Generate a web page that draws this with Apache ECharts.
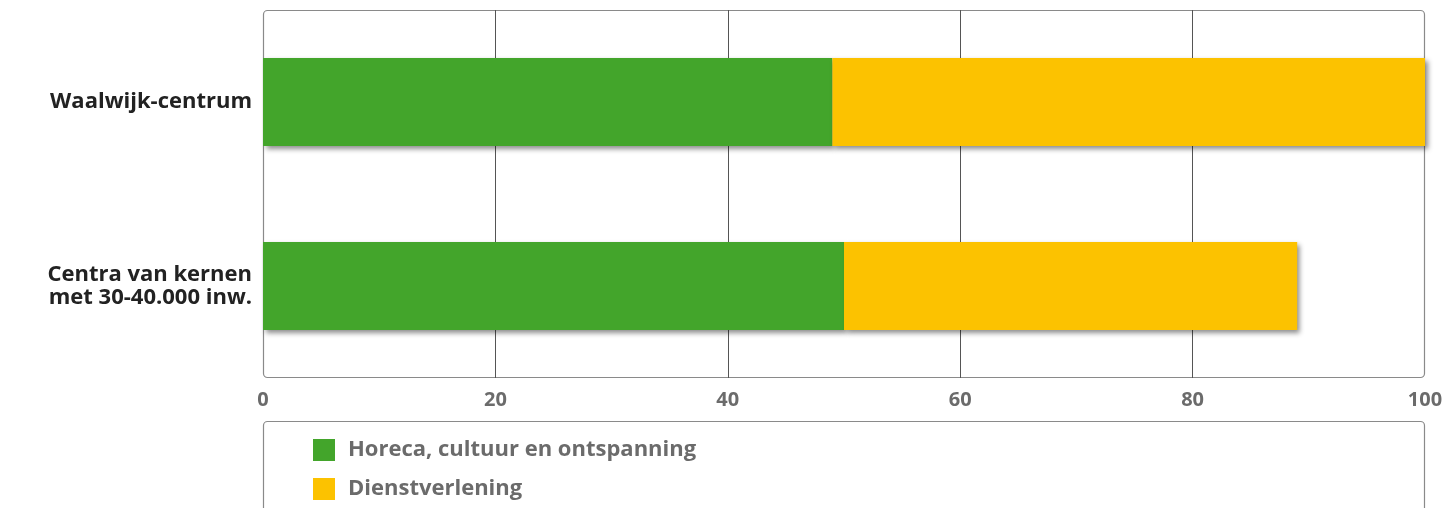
<!DOCTYPE html>
<html>
<head>
<meta charset="utf-8">
<script src="https://cdn.jsdelivr.net/npm/echarts@6/dist/echarts.min.js"></script>
<style>html,body{margin:0;padding:0;background:#fff}#c{width:1449px;height:508px}</style>
</head>
<body>
<div id="c"></div>
<script>
const categories = ['Waalwijk-centrum', 'Centra van kernen\nmet 30-40.000 inw.'];
const seriesNames = ['Horeca, cultuur en ontspanning', 'Dienstverlening'];
const horeca = [49, 50];
const dienst = [51, 39];
const xTicks = [0, 20, 40, 60, 80, 100];

const chart = echarts.init(document.getElementById('c'));
const FONT = '"Open Sans", "Noto Sans", sans-serif';
const shadow = {shadowBlur: 5, shadowOffsetX: 3, shadowOffsetY: 3, shadowColor: 'rgba(0,0,0,0.45)'};
chart.setOption({
  animation: false,
  backgroundColor: '#fff',
  grid: {left: 263, right: 24, top: 10, bottom: 130, show: false},
  graphic: [
    {type: 'rect', z: 0, silent: true,
     shape: {x: 263.5, y: 10.5, width: 1161, height: 367, r: 4},
     style: {fill: 'none', stroke: '#8a8a8a', lineWidth: 1.2}},
    {type: 'rect', z: 0, silent: true,
     shape: {x: 263.5, y: 421.5, width: 1161, height: 100, r: 4},
     style: {fill: 'none', stroke: '#8a8a8a', lineWidth: 1.2}}
  ],
  legend: {
    orient: 'vertical', left: 308, top: 434,
    itemWidth: 22, itemHeight: 22, itemGap: 17,
    icon: 'rect',
    textStyle: {fontFamily: FONT, fontSize: 22, fontWeight: 'bold', color: '#6b6b6b', padding: [0, 0, 0, 8]},
    data: seriesNames
  },
  xAxis: {
    type: 'value', min: 0, max: 100, interval: 20,
    axisLine: {show: false}, axisTick: {show: false},
    splitLine: {show: true, showMinLine: false, showMaxLine: false, lineStyle: {color: '#555', width: 1}},
    axisLabel: {fontFamily: FONT, fontSize: 20, fontWeight: 'bold', color: '#6b6b6b', margin: 12,
      formatter: v => xTicks.includes(v) ? String(v) : ''}
  },
  yAxis: {
    type: 'category', inverse: true, data: categories,
    axisLine: {show: false}, axisTick: {show: false}, splitLine: {show: false},
    axisLabel: {fontFamily: FONT, fontSize: 22, fontWeight: 'bold', color: '#222', margin: 11, lineHeight: 23, align: 'right'}
  },
  series: [
    {name: seriesNames[0], type: 'bar', stack: 'a', data: horeca, barWidth: 88,
     itemStyle: Object.assign({color: '#43a52b'}, shadow), z: 3},
    {name: seriesNames[1], type: 'bar', stack: 'a', data: dienst, barWidth: 88,
     itemStyle: Object.assign({color: '#fcc200'}, shadow), z: 3}
  ]
});
</script>
</body>
</html>
